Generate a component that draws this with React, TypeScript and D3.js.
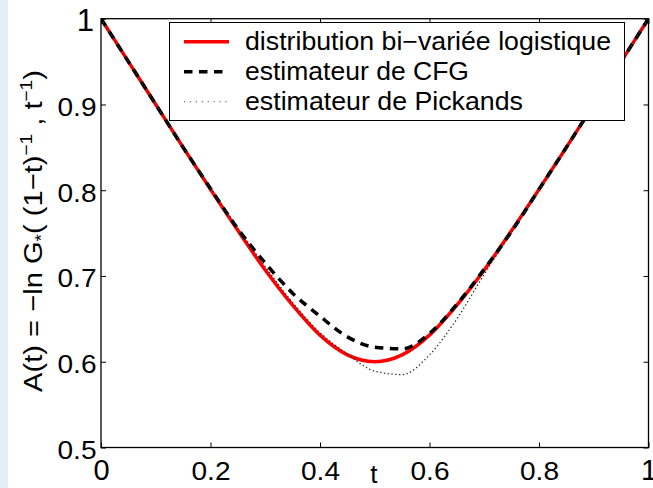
import React, { useEffect, useRef } from "react";
import * as d3 from "d3";

// Abscissa t of the dependence function A(t)
const tValues = [
  0, 0.05, 0.1, 0.15, 0.2, 0.25, 0.3, 0.35, 0.4, 0.45, 0.5,
  0.55, 0.6, 0.65, 0.7, 0.75, 0.8, 0.85, 0.9, 0.95, 1,
];

// Bivariate logistic dependence function
const logisticA = [
  1.0, 0.95, 0.9, 0.85, 0.801, 0.753, 0.707, 0.666, 0.631, 0.608, 0.6,
  0.608, 0.631, 0.666, 0.707, 0.753, 0.801, 0.85, 0.9, 0.95, 1.0,
];

// CFG estimator
const cfgA = [
  1.0, 0.95, 0.9, 0.85, 0.802, 0.755, 0.715, 0.68, 0.653, 0.629, 0.617,
  0.615, 0.633, 0.667, 0.708, 0.752, 0.801, 0.85, 0.9, 0.95, 1.0,
];

// Pickands estimator
const pickandsA = [
  1.0, 0.95, 0.9, 0.851, 0.803, 0.756, 0.711, 0.669, 0.634, 0.609, 0.589,
  0.585, 0.608, 0.65, 0.702, 0.751, 0.8, 0.85, 0.9, 0.95, 1.0,
];

const xTicks = [0, 0.2, 0.4, 0.6, 0.8, 1];
const yTicks = [0.5, 0.6, 0.7, 0.8, 0.9, 1];

const legendLabels = [
  "distribution bi\u2212variée logistique",
  "estimateur de CFG",
  "estimateur de Pickands",
];

const W = 653;
const H = 488;
const FONT = "'Liberation Sans', Arial, Helvetica, sans-serif";

export default function App() {
  const ref = useRef<SVGSVGElement>(null);

  useEffect(() => {
    const svg = d3.select(ref.current);
    svg.selectAll("*").remove();

    const left = 101;
    const right = 648.5;
    const top = 18.7;
    const bottom = 447.5;

    const x = d3.scaleLinear().domain([0, 1]).range([left, right]);
    const y = d3.scaleLinear().domain([0.5, 1]).range([bottom, top]);

    svg.append("rect").attr("width", W).attr("height", H).attr("fill", "#fff");
    svg.append("rect").attr("width", 8).attr("height", H).attr("fill", "#e4eefa");

    svg
      .append("defs")
      .append("clipPath")
      .attr("id", "plot-clip")
      .append("rect")
      .attr("x", left)
      .attr("y", top)
      .attr("width", right - left)
      .attr("height", bottom - top);

    // axis box with inward ticks on all four sides
    const tickLen = 5;
    const ax = svg.append("g").attr("font-family", FONT);

    const bottomAxis = ax
      .append("g")
      .attr("transform", `translate(0,${bottom})`)
      .call(
        d3.axisBottom(x).tickValues(xTicks).tickSizeInner(-tickLen).tickSizeOuter(0).tickFormat(d3.format("")) as any
      );
    const topAxis = ax
      .append("g")
      .attr("transform", `translate(0,${top})`)
      .call(d3.axisTop(x).tickValues(xTicks).tickSizeInner(-tickLen).tickSizeOuter(0).tickFormat(() => "") as any);
    const leftAxis = ax
      .append("g")
      .attr("transform", `translate(${left},0)`)
      .call(
        d3.axisLeft(y).tickValues(yTicks).tickSizeInner(-tickLen).tickSizeOuter(0).tickFormat(d3.format("")) as any
      );
    const rightAxis = ax
      .append("g")
      .attr("transform", `translate(${right},0)`)
      .call(d3.axisRight(y).tickValues(yTicks).tickSizeInner(-tickLen).tickSizeOuter(0).tickFormat(() => "") as any);

    [bottomAxis, topAxis, leftAxis, rightAxis].forEach((g) => {
      g.select(".domain").remove();
      g.selectAll("line").attr("stroke", "#000").attr("stroke-width", 1);
    });

    bottomAxis
      .selectAll<SVGTextElement, number>("text")
      .attr("fill", "#000")
      .attr("dy", null)
      .attr("y", 32)
      .attr("font-size", (d) => (d === 0 || d === 1 ? 29 : 26))
      .attr("textLength", (d) => (d === 0 || d === 1 ? null : 39))
      .attr("lengthAdjust", "spacingAndGlyphs");

    topAxis.selectAll("text").remove();
    rightAxis.selectAll("text").remove();

    leftAxis
      .selectAll<SVGTextElement, number>("text")
      .attr("fill", "#000")
      .attr("text-anchor", "end")
      .attr("dy", null)
      .attr("x", (d) => (d === 1 ? -7 : -4.5))
      .attr("y", (d) => (d === 1 ? 11.5 : 10.8))
      .attr("font-size", (d) => (d === 1 ? 31 : 26))
      .attr("textLength", (d) => (d === 1 ? null : 39))
      .attr("lengthAdjust", "spacingAndGlyphs");

    // curves
    const plotG = svg.append("g").attr("clip-path", "url(#plot-clip)");
    const line = d3
      .line<number>()
      .x((_, i) => x(tValues[i]))
      .y((d) => y(d))
      .curve(d3.curveMonotoneX);

    plotG
      .append("path")
      .attr("d", line(logisticA))
      .attr("fill", "none")
      .attr("stroke", "#ff0000")
      .attr("stroke-width", 3.5);
    plotG
      .append("path")
      .attr("d", line(cfgA))
      .attr("fill", "none")
      .attr("stroke", "#000")
      .attr("stroke-width", 3.5)
      .attr("stroke-dasharray", "8.5,6.5");
    plotG
      .append("path")
      .attr("d", line(pickandsA))
      .attr("fill", "none")
      .attr("stroke", "#333")
      .attr("stroke-width", 1.3)
      .attr("stroke-dasharray", "1.4,2.4");

    svg
      .append("rect")
      .attr("x", left)
      .attr("y", top)
      .attr("width", right - left)
      .attr("height", bottom - top)
      .attr("fill", "none")
      .attr("stroke", "#000")
      .attr("stroke-width", 1.3);

    // legend
    const lg = svg.append("g").attr("font-family", FONT);
    lg.append("rect")
      .attr("x", 169.5)
      .attr("y", 22.5)
      .attr("width", 455)
      .attr("height", 98)
      .attr("fill", "#fff")
      .attr("stroke", "#000")
      .attr("stroke-width", 1);

    const styles = [
      { stroke: "#ff0000", width: 3.5, dash: null as string | null },
      { stroke: "#000", width: 3.5, dash: "8.5,6.5" },
      { stroke: "#555", width: 1.1, dash: "1.2,4.7" },
    ];
    const textLens = [366, 224, 278];
    legendLabels.forEach((label, i) => {
      const cy = 41.7 + i * 30;
      lg.append("line")
        .attr("x1", 184)
        .attr("x2", 229)
        .attr("y1", cy)
        .attr("y2", cy)
        .attr("stroke", styles[i].stroke)
        .attr("stroke-width", styles[i].width)
        .attr("stroke-dasharray", styles[i].dash);
      lg.append("text")
        .attr("x", 245)
        .attr("y", 50 + i * 30)
        .attr("font-size", 25)
        .attr("textLength", textLens[i])
        .attr("lengthAdjust", "spacingAndGlyphs")
        .text(label);
    });

    // axis labels
    svg
      .append("text")
      .attr("font-family", FONT)
      .attr("font-size", 26)
      .attr("x", x(0.5) - 1)
      .attr("y", 483)
      .attr("text-anchor", "middle")
      .text("t");

    const yl = svg
      .append("text")
      .attr("font-family", FONT)
      .attr("font-size", 26)
      .attr("text-anchor", "middle")
      .attr("transform", `translate(42,231) rotate(-90) scale(1.12,1)`);
    yl.append("tspan").text("A(t) = \u2212ln G");
    yl.append("tspan").attr("font-size", 17).attr("dy", 5).text("*");
    yl.append("tspan").attr("dy", -5).text("( (1\u2212t)");
    yl.append("tspan").attr("font-size", 17).attr("dy", -10).text("\u22121");
    yl.append("tspan").attr("dy", 10).text(" , t");
    yl.append("tspan").attr("font-size", 17).attr("dy", -10).text("\u22121");
    yl.append("tspan").attr("dy", 10).text(")");
  }, []);

  return (
    <svg
      ref={ref}
      width={W}
      height={H}
      style={{ position: "absolute", left: 0, top: 0, display: "block" }}
    />
  );
}
